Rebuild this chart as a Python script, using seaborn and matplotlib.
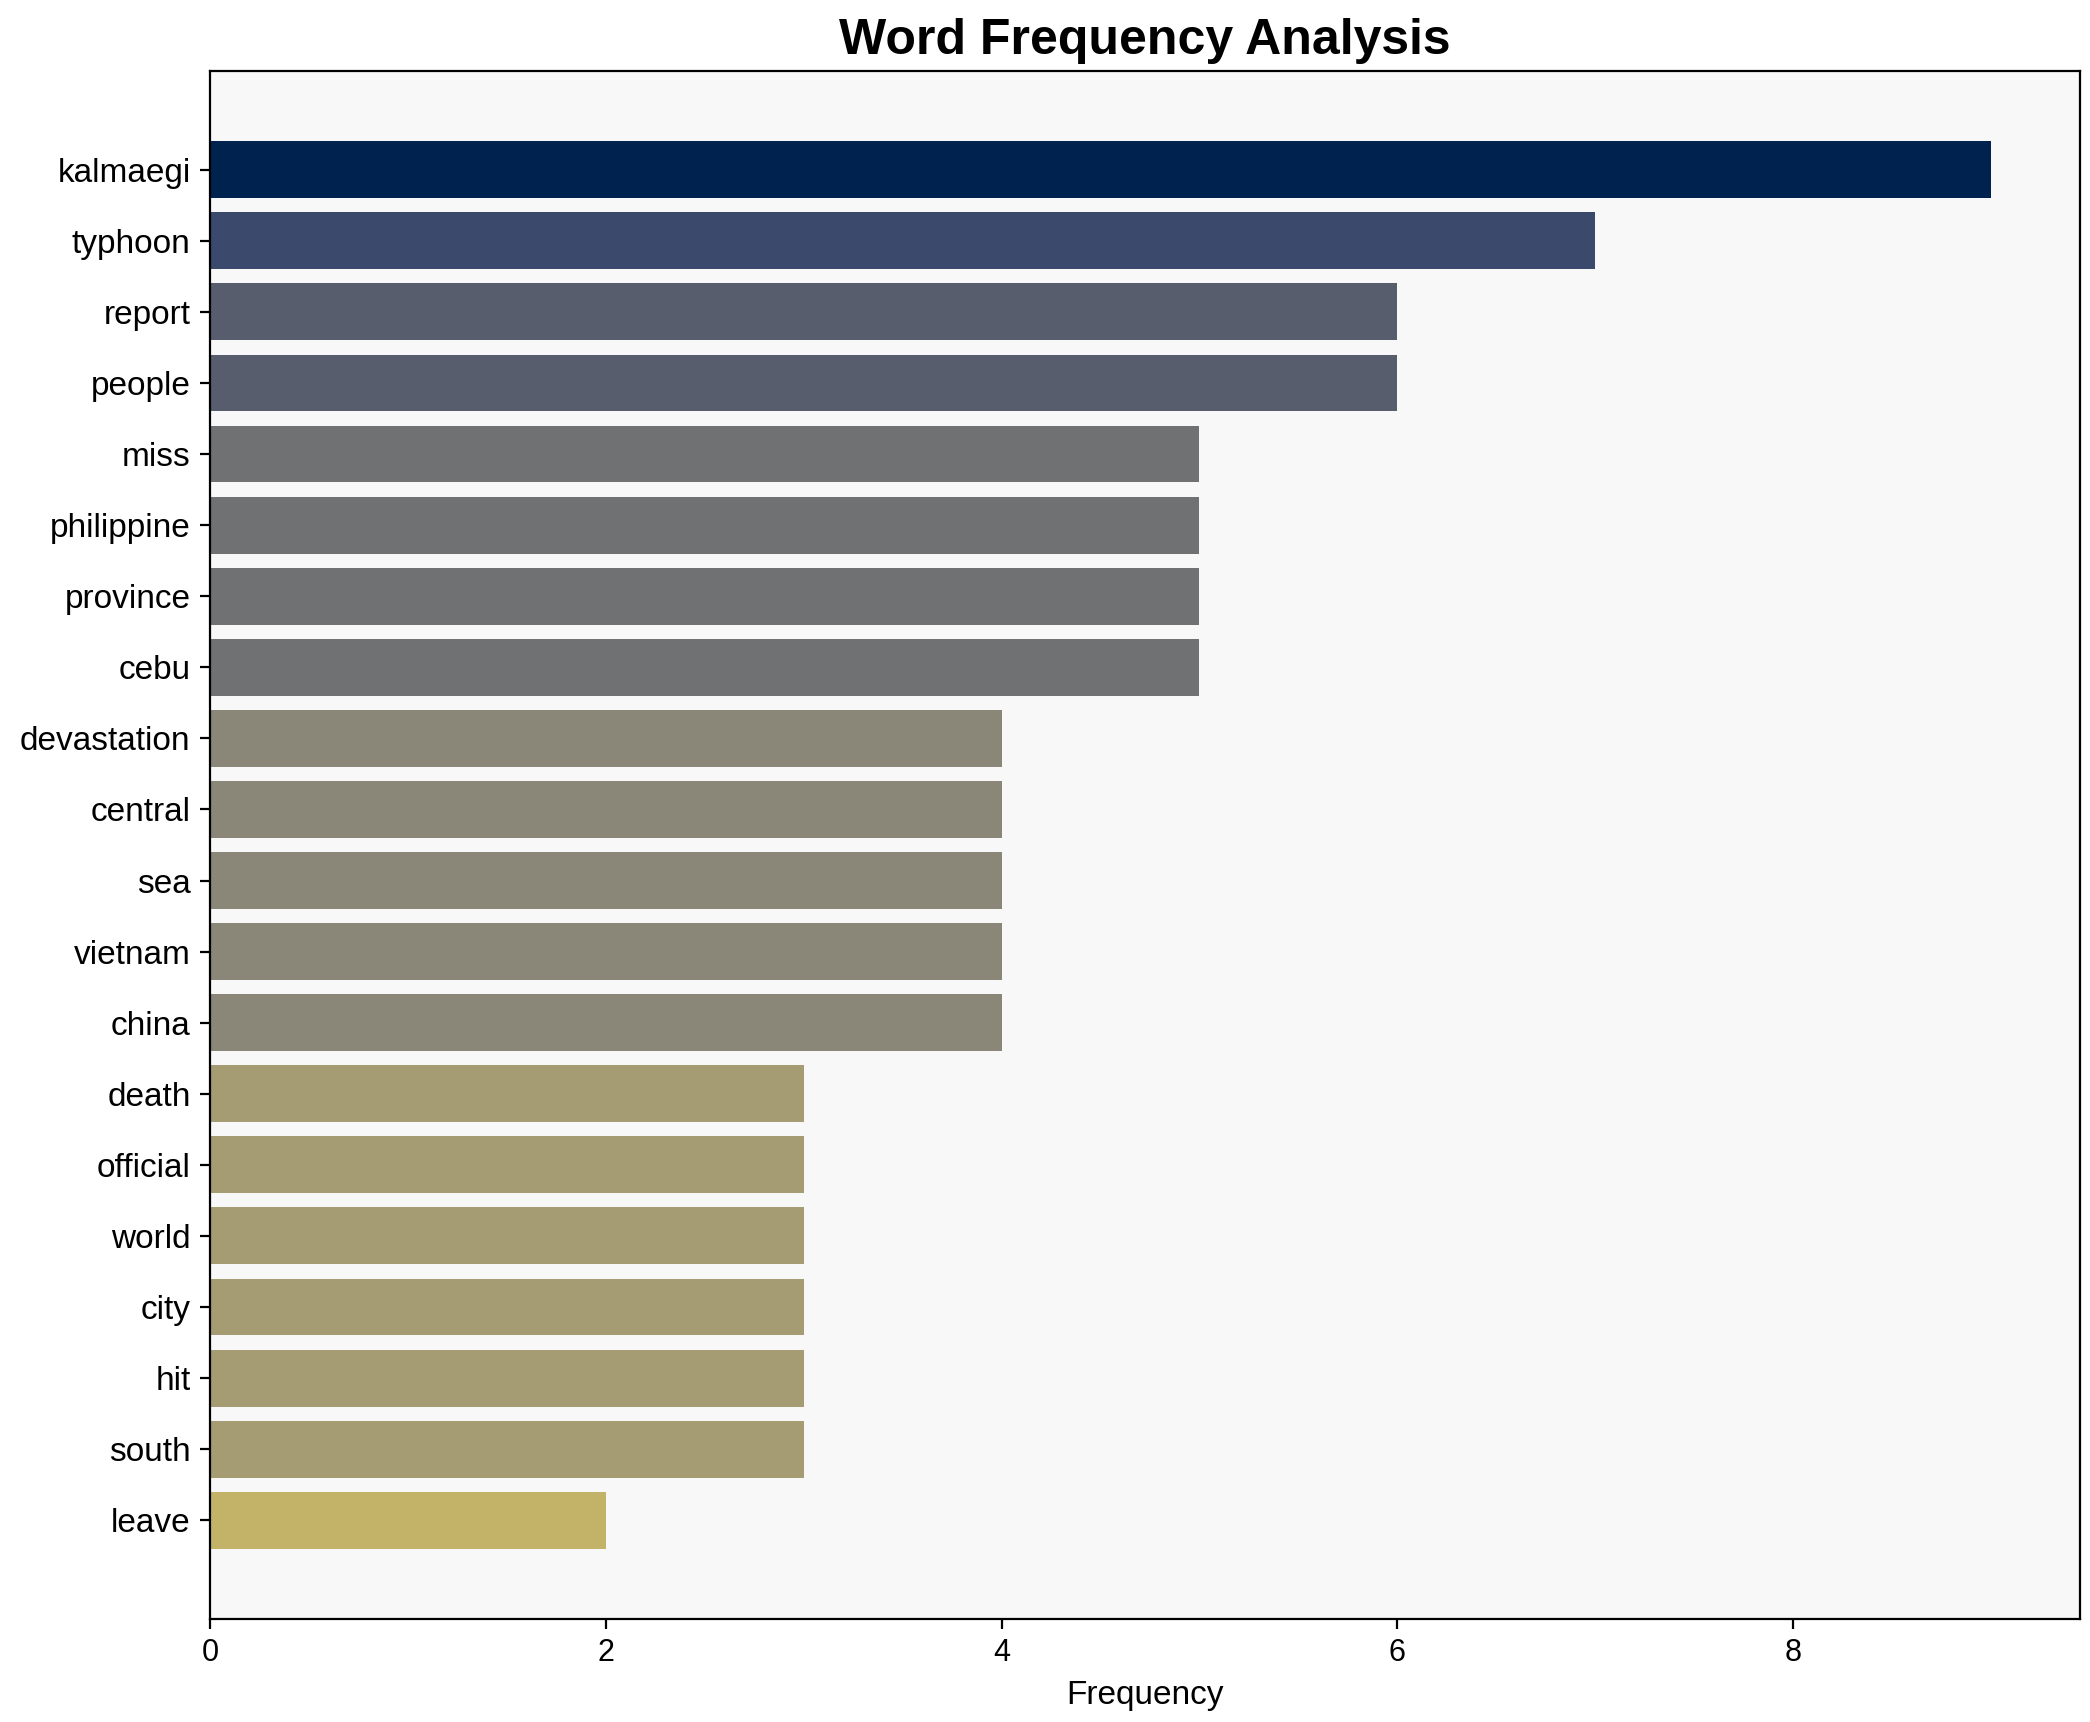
import matplotlib
matplotlib.use('Agg')
import matplotlib.pyplot as plt
import seaborn as sns
import pandas as pd

# word counts, most frequent first
words = ['kalmaegi', 'typhoon', 'report', 'people', 'miss', 'philippine',
         'province', 'cebu', 'devastation', 'central', 'sea', 'vietnam',
         'china', 'death', 'official', 'world', 'city', 'hit', 'south', 'leave']
counts = [9, 7, 6, 6, 5, 5, 5, 5, 4, 4, 4, 4, 4, 3, 3, 3, 3, 3, 3, 2]

plt.rcParams['font.family'] = ['Liberation Sans', 'DejaVu Sans']

df = pd.DataFrame({'word': words, 'count': counts})

# darker bars for bigger counts
cmap = plt.get_cmap('cividis')
top = max(counts)
colors = {w: cmap(1 - c / top) for w, c in zip(words, counts)}

fig, ax = plt.subplots(figsize=(10.45, 8.61), dpi=200)
fig.subplots_adjust(left=0.1005, right=0.9952, top=0.9588, bottom=0.0598)
ax.set_facecolor('#f8f8f8')

sns.barplot(data=df, x='count', y='word', hue='word', palette=colors,
            orient='h', legend=False, width=0.8, saturation=1,
            linewidth=0, ax=ax)

# same padding matplotlib's barh would give
n = len(words)
pad = 0.05 * (n - 0.2)
ax.set_ylim(n - 0.6 + pad, -0.4 - pad)
ax.set_xlim(0, top * 1.05)

for side in ax.spines.values():
    side.set_color('black')
    side.set_linewidth(0.8)

ax.set_title('Word Frequency Analysis', fontsize=18, fontweight='bold')
ax.set_xlabel('Frequency', fontsize=12)
ax.set_ylabel('')
ax.tick_params(axis='y', labelsize=12)
ax.tick_params(axis='x', labelsize=11)

plt.savefig('out.png', dpi=200)
